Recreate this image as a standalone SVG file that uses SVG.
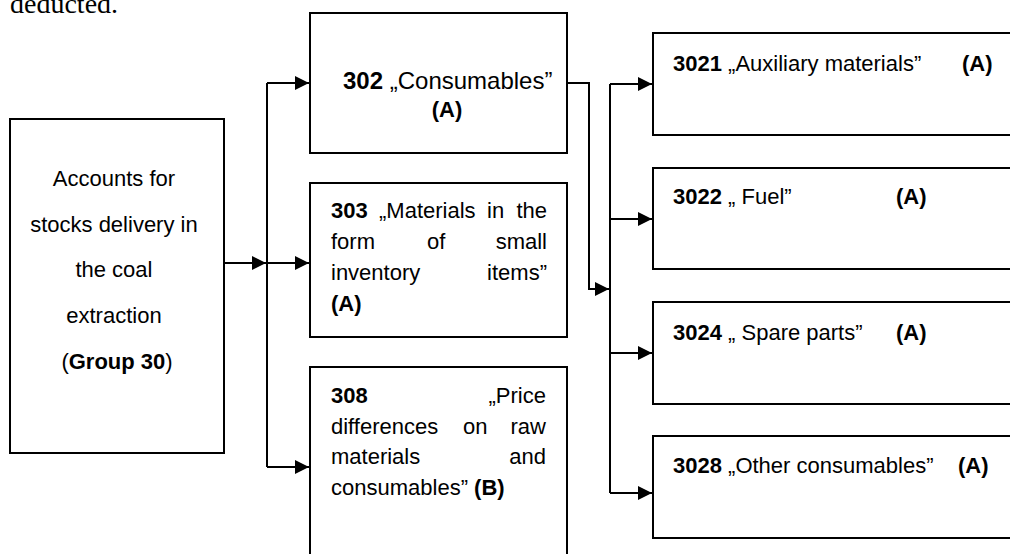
<svg xmlns="http://www.w3.org/2000/svg" width="1010" height="554" viewBox="0 0 1010 554">
<defs>
<style>
.box{fill:#fff;stroke:#000;stroke-width:2}
.t{font-family:"Liberation Sans",Arial,sans-serif;font-size:22px;fill:#000}
.b{font-weight:bold}
.c{fill:none;stroke:#000;stroke-width:2}
.top{font-family:"Liberation Serif","Times New Roman",serif;font-size:28px;fill:#000}
</style>
<marker id="ah" markerUnits="userSpaceOnUse" markerWidth="15" markerHeight="14" refX="14" refY="7" orient="auto">
<path d="M0,0 L14,7 L0,14 z" fill="#000"/>
</marker>
</defs>
<rect width="1010" height="554" fill="#fff"/>
<text class="top" x="10" y="12.5">deducted.</text>

<g id="connectors">
<path class="c" d="M224,263 H266" marker-end="url(#ah)"/>
<path class="c" d="M267,83 V467"/>
<path class="c" d="M267,83 H309" marker-end="url(#ah)"/>
<path class="c" d="M267,263 H309" marker-end="url(#ah)"/>
<path class="c" d="M267,467 H309" marker-end="url(#ah)"/>
<path class="c" d="M567,83 H589 V289 H609" marker-end="url(#ah)"/>
<path class="c" d="M610,84 V493"/>
<path class="c" d="M610,84 H652" marker-end="url(#ah)"/>
<path class="c" d="M610,219 H652" marker-end="url(#ah)"/>
<path class="c" d="M610,353 H652" marker-end="url(#ah)"/>
<path class="c" d="M610,493 H652" marker-end="url(#ah)"/>
</g>

<g id="group30">
<rect class="box" x="10" y="119" width="214" height="334"/>
<text class="t" text-anchor="middle">
<tspan x="117" y="186">Accounts for</tspan>
<tspan x="117" y="232">stocks delivery in</tspan>
<tspan x="117" y="277">the coal</tspan>
<tspan x="117" y="323">extraction</tspan>
<tspan x="117" y="369">(<tspan class="b">Group 30</tspan>)</tspan>
</text>
</g>

<g id="acc302">
<rect class="box" x="310" y="13" width="257" height="140"/>
<text class="t" x="343" y="89" style="font-size:24px"><tspan class="b">302</tspan> „Consumables”</text>
<text class="t b" text-anchor="middle" x="447" y="117">(A)</text>
</g>

<g id="acc303">
<rect class="box" x="310" y="183" width="257" height="154"/>
<text class="t b" x="331" y="218">303</text>
<text class="t" x="379" y="218">„Materials</text>
<text class="t" x="487" y="218">in</text>
<text class="t" x="547" y="218" text-anchor="end">the</text>
<text class="t" x="331" y="249">form</text>
<text class="t" x="427" y="249">of</text>
<text class="t" x="547" y="249" text-anchor="end">small</text>
<text class="t" x="331" y="280">inventory</text>
<text class="t" x="547" y="280" text-anchor="end">items”</text>
<text class="t b" x="331" y="311">(A)</text>
</g>

<g id="acc308">
<rect class="box" x="310" y="367" width="257" height="200"/>
<text class="t b" x="331" y="403">308</text>
<text class="t" x="546" y="403" text-anchor="end">„Price</text>
<text class="t" x="331" y="434">differences</text>
<text class="t" x="463" y="434">on</text>
<text class="t" x="546" y="434" text-anchor="end">raw</text>
<text class="t" x="331" y="464">materials</text>
<text class="t" x="546" y="464" text-anchor="end">and</text>
<text class="t" x="331" y="495">consumables” <tspan class="b">(B)</tspan></text>
</g>

<g id="acc3021">
<rect class="box" x="653" y="33" width="370" height="102"/>
<text class="t" x="673" y="71"><tspan class="b">3021</tspan> „Auxiliary materials”</text>
<text class="t b" x="962" y="71">(A)</text>
</g>

<g id="acc3022">
<rect class="box" x="653" y="168" width="370" height="101"/>
<text class="t" x="673" y="204"><tspan class="b">3022</tspan> „ Fuel”</text>
<text class="t b" x="896" y="204">(A)</text>
</g>

<g id="acc3024">
<rect class="box" x="653" y="302" width="370" height="102"/>
<text class="t" x="673" y="340"><tspan class="b">3024</tspan> „ Spare parts”</text>
<text class="t b" x="896" y="340">(A)</text>
</g>

<g id="acc3028">
<rect class="box" x="653" y="436" width="370" height="102"/>
<text class="t" x="673" y="473"><tspan class="b">3028</tspan> „Other consumables”</text>
<text class="t b" x="958" y="473">(A)</text>
</g>
</svg>
